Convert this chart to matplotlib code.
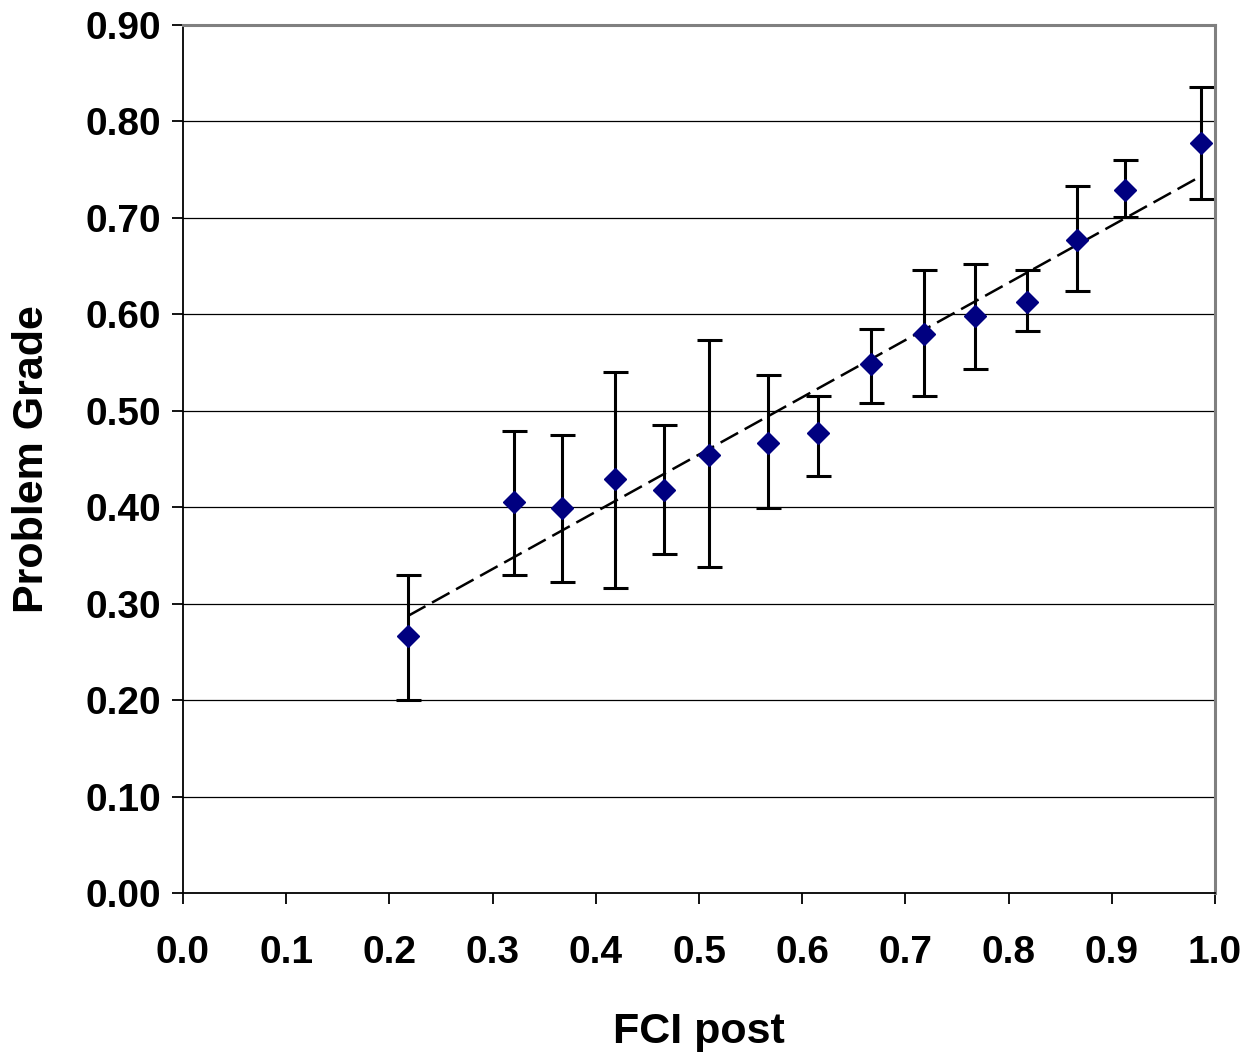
import numpy as np
import matplotlib
matplotlib.use("Agg")
import matplotlib.pyplot as plt

plt.rcParams['font.family'] = ['Liberation Sans', 'DejaVu Sans']

fci_post = [0.218, 0.321, 0.367, 0.419, 0.466, 0.510, 0.567, 0.615, 0.667,
            0.718, 0.767, 0.818, 0.866, 0.913, 0.986]
problem_grade = [0.266, 0.405, 0.399, 0.429, 0.418, 0.454, 0.467, 0.477, 0.549,
                 0.580, 0.598, 0.613, 0.677, 0.729, 0.778]
err_upper = [0.330, 0.479, 0.475, 0.540, 0.485, 0.573, 0.537, 0.515, 0.585,
             0.646, 0.652, 0.646, 0.733, 0.760, 0.836]
err_lower = [0.200, 0.330, 0.323, 0.316, 0.352, 0.338, 0.399, 0.432, 0.508,
             0.515, 0.543, 0.583, 0.624, 0.701, 0.720]

x_ticks = [0.0, 0.1, 0.2, 0.3, 0.4, 0.5, 0.6, 0.7, 0.8, 0.9, 1.0]
y_ticks = [0.0, 0.1, 0.2, 0.3, 0.4, 0.5, 0.6, 0.7, 0.8, 0.9]

x = np.array(fci_post)
y = np.array(problem_grade)
yerr = np.array([y - np.array(err_lower), np.array(err_upper) - y])

fig = plt.figure(figsize=(12.49, 10.53), dpi=100)
ax = fig.add_axes([0.1465, 0.1519, 0.9728 - 0.1465, 0.9763 - 0.1519])

for t in y_ticks[1:-1]:
    ax.axhline(t, color='black', lw=0.9, zorder=1)

ax.errorbar(x, y, yerr=yerr, fmt='none', ecolor='black', elinewidth=2.2,
            capsize=9, capthick=2.2, zorder=2)

slope, intercept = np.polyfit(x, y, 1)
xt = np.array([x.min(), x.max()])
ax.plot(xt, slope * xt + intercept, color='black', lw=1.8,
        dashes=(8, 3), zorder=3)

ax.plot(x, y, linestyle='none', marker='D', markersize=11,
        markerfacecolor='#000080', markeredgecolor='#000080', zorder=4)

ax.set_xlim(0, 1.0)
ax.set_ylim(0, 0.9)
ax.set_xticks(x_ticks)
ax.set_yticks(y_ticks)
ax.set_xticklabels([f"{v:.1f}" for v in x_ticks])
ax.set_yticklabels([f"{v:.2f}" for v in y_ticks])
ax.tick_params(axis='both', direction='out', length=8, width=1.3,
               labelsize=28, pad=8)
ax.tick_params(axis='x', pad=22)
for lab in ax.get_xticklabels() + ax.get_yticklabels():
    lab.set_fontweight('bold')

for s in ['left', 'bottom']:
    ax.spines[s].set_color('black')
    ax.spines[s].set_linewidth(1.3)
for s in ['top', 'right']:
    ax.spines[s].set_color('#808080')
    ax.spines[s].set_linewidth(2.2)

ax.set_xlabel('FCI post', fontsize=31, fontweight='bold', labelpad=30)
ax.set_ylabel('Problem Grade', fontsize=31, fontweight='bold', labelpad=24)

fig.savefig('out.png', dpi=100, facecolor='white')
